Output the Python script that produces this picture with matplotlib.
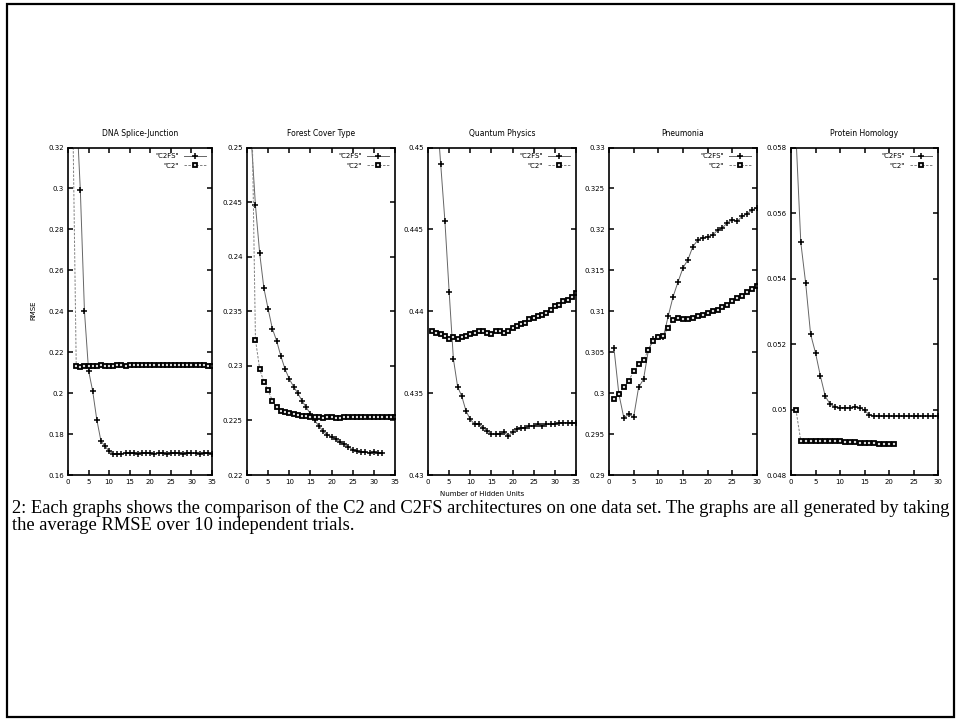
import matplotlib
matplotlib.use('Agg')
import matplotlib.pyplot as plt
from matplotlib.patches import Rectangle
from matplotlib.ticker import FixedLocator, FormatStrFormatter

# ---------------- data ----------------
titles = ["DNA Splice-Junction", "Forest Cover Type", "Quantum Physics", "Pneumonia", "Protein Homology"]

dna_c2fs = [0.400, 0.341, 0.299, 0.240, 0.211, 0.201, 0.187, 0.1767, 0.174, 0.1717,
            0.1703, 0.1702, 0.1704, 0.1708, 0.1706, 0.1707, 0.1705, 0.1706, 0.1707, 0.1706,
            0.1705, 0.1707, 0.1706, 0.1705, 0.1707, 0.1706, 0.1706, 0.1705, 0.1707, 0.1706,
            0.1706, 0.1705, 0.1706, 0.1706, 0.1705]
dna_c2 = [0.360, 0.2132, 0.2130, 0.2133, 0.2131, 0.2134, 0.2133, 0.2135, 0.2133, 0.2134,
          0.2132, 0.2135, 0.2136, 0.2134, 0.2136, 0.2137, 0.2135, 0.2137, 0.2138, 0.2137,
          0.2137, 0.2138, 0.2137, 0.2138, 0.2138, 0.2137, 0.2138, 0.2138, 0.2137, 0.2138,
          0.2137, 0.2136, 0.2135, 0.2134, 0.2133]

forest_c2fs = [0.2508, 0.2447, 0.2403, 0.2371, 0.2352, 0.2334, 0.2323, 0.2309, 0.2297, 0.2288,
               0.2281, 0.2275, 0.2268, 0.2262, 0.2256, 0.2250, 0.2245, 0.2240, 0.2237, 0.2235,
               0.2233, 0.2230, 0.2228, 0.2226, 0.2223, 0.2222, 0.2221, 0.2221, 0.2220, 0.2221,
               0.2220, 0.2220]
forest_c2 = [0.2576, 0.2324, 0.2297, 0.2285, 0.2278, 0.2268, 0.2262, 0.2259, 0.2258, 0.2257,
             0.2256, 0.2255, 0.2254, 0.2254, 0.2253, 0.2253, 0.2253, 0.2252, 0.2253, 0.2253,
             0.2252, 0.2252, 0.2253, 0.2253, 0.2253, 0.2253, 0.2253, 0.2253, 0.2253, 0.2253,
             0.2253, 0.2253, 0.2253, 0.2253, 0.2253]

quantum_c2fs = [0.4560, 0.4525, 0.4490, 0.4455, 0.4412, 0.4371, 0.4354, 0.4348, 0.4339, 0.4334,
                0.4331, 0.4331, 0.4329, 0.4327, 0.4325, 0.4325, 0.4325, 0.4326, 0.4324, 0.4326,
                0.4328, 0.4329, 0.4329, 0.4330, 0.4330, 0.4331, 0.4330, 0.4331, 0.4331, 0.4331,
                0.4332, 0.4332, 0.4332, 0.4332, 0.4332]
quantum_c2 = [0.4388, 0.4387, 0.4386, 0.4385, 0.4383, 0.4384, 0.4383, 0.4384, 0.4385, 0.4386,
              0.4387, 0.4388, 0.4388, 0.4387, 0.4386, 0.4388, 0.4388, 0.4387, 0.4388, 0.4390,
              0.4391, 0.4392, 0.4393, 0.4395, 0.4396, 0.4397, 0.4398, 0.4399, 0.4401, 0.4403,
              0.4404, 0.4406, 0.4407, 0.4409, 0.4411]

pneu_c2fs = [0.3055, 0.2999, 0.2970, 0.2974, 0.2971, 0.3007, 0.3017, 0.3053, 0.3066, 0.3069,
             0.3068, 0.3094, 0.3118, 0.3136, 0.3153, 0.3163, 0.3179, 0.3187, 0.3190, 0.3191,
             0.3193, 0.3199, 0.3202, 0.3208, 0.3212, 0.3210, 0.3216, 0.3219, 0.3224, 0.3226]
pneu_c2 = [0.2993, 0.2999, 0.3008, 0.3015, 0.3027, 0.3035, 0.3040, 0.3053, 0.3064, 0.3068,
           0.3070, 0.3080, 0.3089, 0.3092, 0.3091, 0.3091, 0.3092, 0.3094, 0.3096, 0.3098,
           0.3100, 0.3102, 0.3105, 0.3108, 0.3112, 0.3116, 0.3119, 0.3123, 0.3127, 0.3131]

prot_c2fs = [0.0584, 0.0551, 0.05385, 0.0523, 0.05173, 0.05102, 0.0504, 0.05016, 0.05008, 0.05006,
             0.05006, 0.05006, 0.05008, 0.05006, 0.04998, 0.04983, 0.0498, 0.0498, 0.0498, 0.0498,
             0.0498, 0.0498, 0.0498, 0.0498, 0.0498, 0.0498, 0.0498, 0.0498, 0.0498, 0.0498]
prot_c2 = [0.0500, 0.04904, 0.04905, 0.04905, 0.04904, 0.04905, 0.04905, 0.04904, 0.04905, 0.04904,
           0.04902, 0.04902, 0.04900, 0.04899, 0.04898, 0.04897, 0.04897, 0.04896, 0.04896, 0.04896,
           0.04895]

c2fs_series = [dna_c2fs, forest_c2fs, quantum_c2fs, pneu_c2fs, prot_c2fs]
c2_series = [dna_c2, forest_c2, quantum_c2, pneu_c2, prot_c2]

y_ticks = [
    [0.16, 0.18, 0.2, 0.22, 0.24, 0.26, 0.28, 0.3, 0.32],
    [0.22, 0.225, 0.23, 0.235, 0.24, 0.245, 0.25],
    [0.43, 0.435, 0.44, 0.445, 0.45],
    [0.29, 0.295, 0.3, 0.305, 0.31, 0.315, 0.32, 0.325, 0.33],
    [0.048, 0.05, 0.052, 0.054, 0.056, 0.058],
]
x_ticks = [
    [0, 5, 10, 15, 20, 25, 30, 35],
    [0, 5, 10, 15, 20, 25, 30, 35],
    [0, 5, 10, 15, 20, 25, 30, 35],
    [0, 5, 10, 15, 20, 25, 30],
    [0, 5, 10, 15, 20, 25, 30],
]

caption_1 = "2: Each graphs shows the comparison of the C2 and C2FS architectures on one data set. The graphs are all generated by taking"
caption_2 = "the average RMSE over 10 independent trials."

# ---------------- layout ----------------
W, H = 961, 721
fig = plt.figure(figsize=(W / 100, H / 100), dpi=100)
fig.patch.set_facecolor('white')

narrow = ['Liberation Sans Narrow', 'DejaVu Sans']
panel_lr = [(68, 212), (247, 395), (428, 576), (609, 757), (791, 938)]
top_px, bot_px = 147.5, 475

for i in range(5):
    L, R = panel_lr[i]
    ax = fig.add_axes([L / W, 1 - bot_px / H, (R - L) / W, (bot_px - top_px) / H])
    xs1 = list(range(1, len(c2fs_series[i]) + 1))
    xs2 = list(range(1, len(c2_series[i]) + 1))
    ax.plot(xs1, c2fs_series[i], color='0.4', lw=0.7, marker='+', ms=4.5, mec='black', mew=1.1,
            label='"C2FS"', clip_on=True)
    ax.plot(xs2, c2_series[i], color='0.5', lw=0.7, ls=(0, (2.5, 1.5)), marker='s', ms=3.2,
            mfc='0.85', mec='black', mew=1.3, label='"C2"', clip_on=True)
    ax.set_xlim(x_ticks[i][0], x_ticks[i][-1])
    ax.set_ylim(y_ticks[i][0], y_ticks[i][-1])
    ax.xaxis.set_major_locator(FixedLocator(x_ticks[i]))
    ax.yaxis.set_major_locator(FixedLocator(y_ticks[i]))
    ax.yaxis.set_major_formatter(FormatStrFormatter('%g'))
    ax.tick_params(direction='in', length=3.5, width=1.1, top=True, right=True,
                   labelsize=5, pad=3)
    for lab in ax.get_xticklabels() + ax.get_yticklabels():
        lab.set_family(narrow)
    for s in ax.spines.values():
        s.set_linewidth(1.2)
    ax.legend(loc='upper right', frameon=False, markerfirst=False,
              handlelength=3.2, handletextpad=0.8, labelspacing=0.55,
              borderaxespad=0.4, prop={'family': narrow, 'size': 5})
    fig.text((L + R) / 2 / W, 1 - 134 / H, titles[i], ha='center', va='center',
             fontsize=5.5, family=narrow)

fig.text(33 / W, 1 - 310 / H, "RMSE", rotation=90, ha='center', va='center',
         fontsize=5, family=narrow)
fig.text(482 / W, 1 - 494 / H, "Number of Hidden Units", ha='center', va='center',
         fontsize=5, family=narrow)

# caption (fit first line to its width in the reference)
serif = ['Liberation Serif', 'DejaVu Serif']
t1 = fig.text(12 / W, 1 - 508 / H, caption_1, ha='left', va='center', fontsize=12, family=serif)
fig.canvas.draw()
w = t1.get_window_extent().width
fs = 12 * (938 / w)
t1.set_fontsize(fs)
fig.text(12 / W, 1 - 526 / H, caption_2, ha='left', va='center', fontsize=fs, family=serif)

# page border
fig.add_artist(Rectangle((7 / W, 1 - 717 / H), 947 / W, 713 / H, transform=fig.transFigure,
                         fill=False, lw=1.6, ec='black'))

fig.savefig('out.png', dpi=100)
